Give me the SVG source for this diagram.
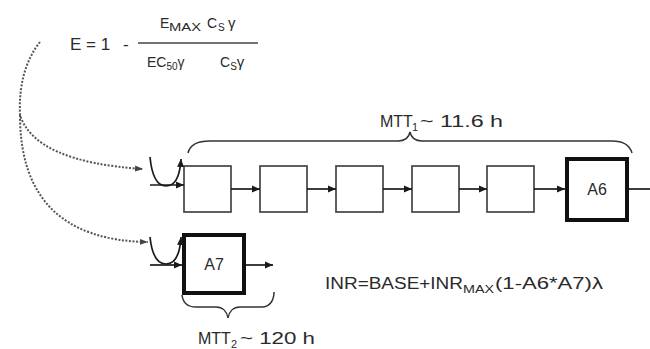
<svg xmlns="http://www.w3.org/2000/svg" width="650" height="349" viewBox="0 0 650 349">
<defs>
<marker id="ah" markerUnits="userSpaceOnUse" markerWidth="9" markerHeight="8" refX="8" refY="4" orient="auto"><path d="M0,0.5 L8,4 L0,7.5 z" fill="#1a1a1a"/></marker>
<marker id="ahd" markerUnits="userSpaceOnUse" markerWidth="9" markerHeight="8" refX="8" refY="4" orient="auto"><path d="M0,1 L8,4 L0,7 z" fill="#444"/></marker>
</defs>
<style>
text{font-family:"Liberation Sans",Arial,sans-serif;fill:#2a2a2a}
.box{fill:#fff;stroke:#444;stroke-width:1.7}
.bold{fill:#fff;stroke:#111;stroke-width:4}
.ln{fill:none;stroke:#1a1a1a;stroke-width:1.7}
.dot{fill:none;stroke:#555;stroke-width:2;stroke-dasharray:2 1.6}
.br{fill:none;stroke:#333;stroke-width:1.5}
</style>
<rect width="650" height="349" fill="#fff"/>
<g id="equation">
<text x="70" y="50" font-size="17">E = 1</text>
<text x="123" y="50" font-size="17">-</text>
<line x1="138" y1="43" x2="258" y2="43" stroke="#444" stroke-width="1.7"/>
<text x="160" y="28" font-size="14">E</text>
<text x="169" y="31" font-size="10" textLength="32" lengthAdjust="spacingAndGlyphs">MAX</text>
<text x="207" y="28" font-size="14">C</text>
<text x="218" y="31" font-size="10">S</text>
<text x="228" y="28" font-size="15">γ</text>
<text x="147" y="67" font-size="14">EC<tspan font-size="10" dy="3">50</tspan><tspan dy="-3">γ</tspan></text>
<text x="220" y="67" font-size="14">C<tspan font-size="10" dy="3">S</tspan><tspan dy="-3" font-size="15">γ</tspan></text>
</g>
<g id="b1"><rect class="box" x="184" y="166" width="47" height="46"/></g>
<g id="b2"><rect class="box" x="260" y="166" width="47" height="46"/></g>
<g id="b3"><rect class="box" x="336" y="166" width="47" height="46"/></g>
<g id="b4"><rect class="box" x="412" y="166" width="47" height="46"/></g>
<g id="b5"><rect class="box" x="487" y="166" width="47" height="46"/></g>
<g id="A6"><rect class="bold" x="567" y="159" width="60" height="61"/><text x="597" y="195" font-size="16" text-anchor="middle">A6</text></g>
<g id="A7"><rect class="bold" x="184" y="235" width="60" height="58"/><text x="214" y="270" font-size="16" text-anchor="middle">A7</text></g>
<g id="connectors">
<path class="ln" d="M231,189 L260,189" marker-end="url(#ah)"/>
<path class="ln" d="M307,189 L336,189" marker-end="url(#ah)"/>
<path class="ln" d="M383,189 L412,189" marker-end="url(#ah)"/>
<path class="ln" d="M459,189 L487,189" marker-end="url(#ah)"/>
<path class="ln" d="M534,189 L565,189" marker-end="url(#ah)"/>
<path class="ln" d="M629,189 L650,189"/>
<path class="ln" d="M150,185 L184,185" marker-end="url(#ah)"/>
<path class="ln" d="M150,157 C152,178 158,186 166,186 C175,186 180,176 181,159" marker-end="url(#ah)"/>
<path class="ln" d="M246,265 L273,265" marker-end="url(#ah)"/>
<path class="ln" d="M150,265 L182,265" marker-end="url(#ah)"/>
<path class="ln" d="M150,237 C152,256 158,264 166,264 C175,264 180,254 181,237" marker-end="url(#ah)"/>
<path class="dot" d="M40,42 Q18,70 20,115 Q35,162 143,169" marker-end="url(#ahd)"/>
<path class="dot" d="M20,115 Q20,240 148,242" marker-end="url(#ahd)"/>
<path class="br" d="M188,153 C190,144 198,141 210,141 L398,141 C405,141 409,137 410,132 C411,137 415,141 422,141 L612,141 C624,141 630,146 632,153"/>
<path class="br" d="M182,295 C183,303 188,307 196,307 L216,307 C223,307 227,312 228,318 C229,312 233,307 240,307 L262,307 C270,307 274,300 274,292"/>
</g>
<text x="380" y="127" font-size="16">MTT</text>
<text x="412" y="131" font-size="11">1</text>
<text x="420" y="127" font-size="16" textLength="83" lengthAdjust="spacingAndGlyphs">~ 11.6 h</text>
<text x="198" y="344" font-size="16">MTT</text>
<text x="231" y="348" font-size="11">2</text>
<text x="240" y="344" font-size="16" textLength="75" lengthAdjust="spacingAndGlyphs">~ 120 h</text>
<text x="325" y="289" font-size="16" textLength="138" lengthAdjust="spacingAndGlyphs">INR=BASE+INR</text>
<text x="463" y="293" font-size="11" textLength="31" lengthAdjust="spacingAndGlyphs">MAX</text>
<text x="495" y="289" font-size="16" textLength="108" lengthAdjust="spacingAndGlyphs">(1-A6*A7)λ</text>
</svg>
